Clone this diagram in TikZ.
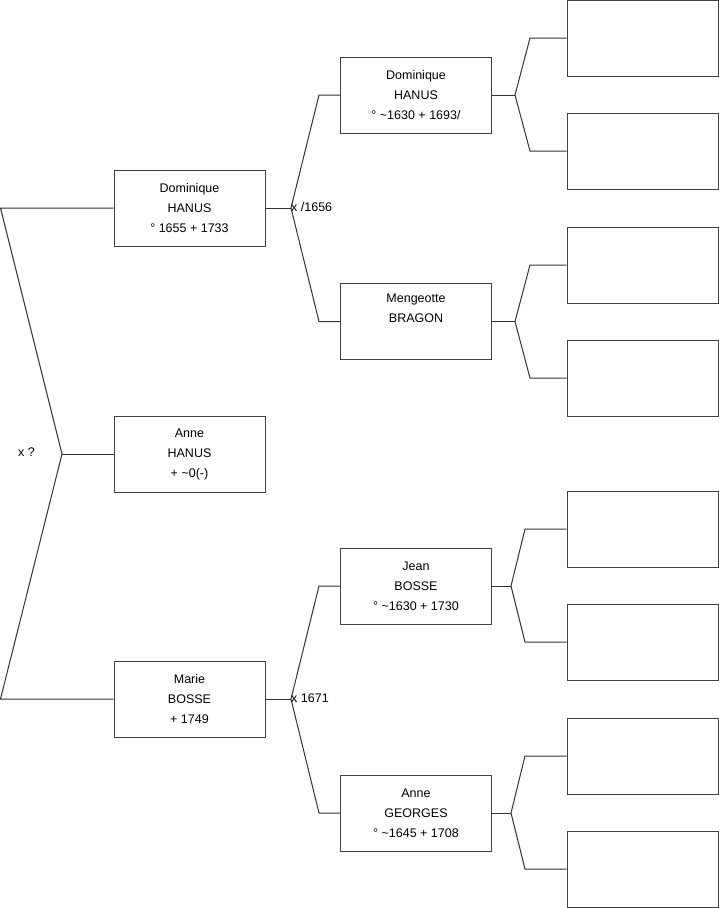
\documentclass[tikz,border=0pt]{standalone}
\usepackage{fontspec}
\setmainfont{Liberation Sans}
\begin{document}
\begin{tikzpicture}[x=1pt,y=-1pt,
  person/.style={draw=black!75,line width=1pt,fill=white,minimum width=151pt,minimum height=76pt,inner sep=0pt,align=center,font=\fontsize{12.5}{20}\selectfont},
  link/.style={line width=1pt,black!80},
  lbl/.style={inner sep=0pt,font=\fontsize{12.5}{15}\selectfont}]
\useasboundingbox (0,0) rectangle (719,908);
% generation 1
\node[person] (d1) at (189.5,208) {Dominique\\HANUS\\° 1655 + 1733};
\node[person] (a1) at (189.5,454) {Anne\\HANUS\\+ \textasciitilde0(-)};
\node[person] (m1) at (189.5,699) {Marie\\BOSSE\\+ 1749};
% generation 2
\node[person] (d2) at (416,95) {Dominique\\HANUS\\° \textasciitilde1630 + 1693/};
\node[person] (g2) at (416,321.5) {Mengeotte\\BRAGON\\\strut};
\node[person] (j2) at (416,586) {Jean\\BOSSE\\° \textasciitilde1630 + 1730};
\node[person] (a2) at (416,813) {Anne\\GEORGES\\° \textasciitilde1645 + 1708};
% generation 3
\node[person] (e1) at (642.5,38) {};
\node[person] (e2) at (642.5,151) {};
\node[person] (e3) at (642.5,265) {};
\node[person] (e4) at (642.5,378) {};
\node[person] (e5) at (642.5,529) {};
\node[person] (e6) at (642.5,642) {};
\node[person] (e7) at (642.5,756) {};
\node[person] (e8) at (642.5,869) {};
% junction coordinates
\coordinate (ta) at (0.5,208);
\coordinate (tb) at (0.5,699);
\coordinate (k0) at (62,454);
\coordinate (k1) at (291,208);
\coordinate (k2) at (291,699);
\coordinate (u1) at (319,95);
\coordinate (u2) at (319,321.5);
\coordinate (u3) at (319,586);
\coordinate (u4) at (319,813);
\coordinate (k3) at (515,95);
\coordinate (k4) at (515,321.5);
\coordinate (k5) at (511,586);
\coordinate (k6) at (511,813);
\coordinate (v1) at (530,38);
\coordinate (v2) at (530,151);
\coordinate (v3) at (530,265);
\coordinate (v4) at (530,378);
\coordinate (v5) at (525,529);
\coordinate (v6) at (525,642);
\coordinate (v7) at (525,756);
\coordinate (v8) at (525,869);
% connectors
\draw[link] (d1.west) -- (ta) -- (k0) -- (tb) -- (m1.west);
\draw[link] (k0) -- (a1.west);
\draw[link] (d1.east) -- (k1);
\draw[link] (d2.west) -- (u1) -- (k1) -- (u2) -- (g2.west);
\draw[link] (m1.east) -- (k2);
\draw[link] (j2.west) -- (u3) -- (k2) -- (u4) -- (a2.west);
\draw[link] (d2.east) -- (k3);
\draw[link] (e1.west) -- (v1) -- (k3) -- (v2) -- (e2.west);
\draw[link] (g2.east) -- (k4);
\draw[link] (e3.west) -- (v3) -- (k4) -- (v4) -- (e4.west);
\draw[link] (j2.east) -- (k5);
\draw[link] (e5.west) -- (v5) -- (k5) -- (v6) -- (e6.west);
\draw[link] (a2.east) -- (k6);
\draw[link] (e7.west) -- (v7) -- (k6) -- (v8) -- (e8.west);
% labels
\node[lbl,anchor=west] (lq) at (18,452) {x ?};
\node[lbl,anchor=west] (l1) at (291,207) {x /1656};
\node[lbl,anchor=west] (l2) at (291,698) {x 1671};
\end{tikzpicture}
\end{document}
